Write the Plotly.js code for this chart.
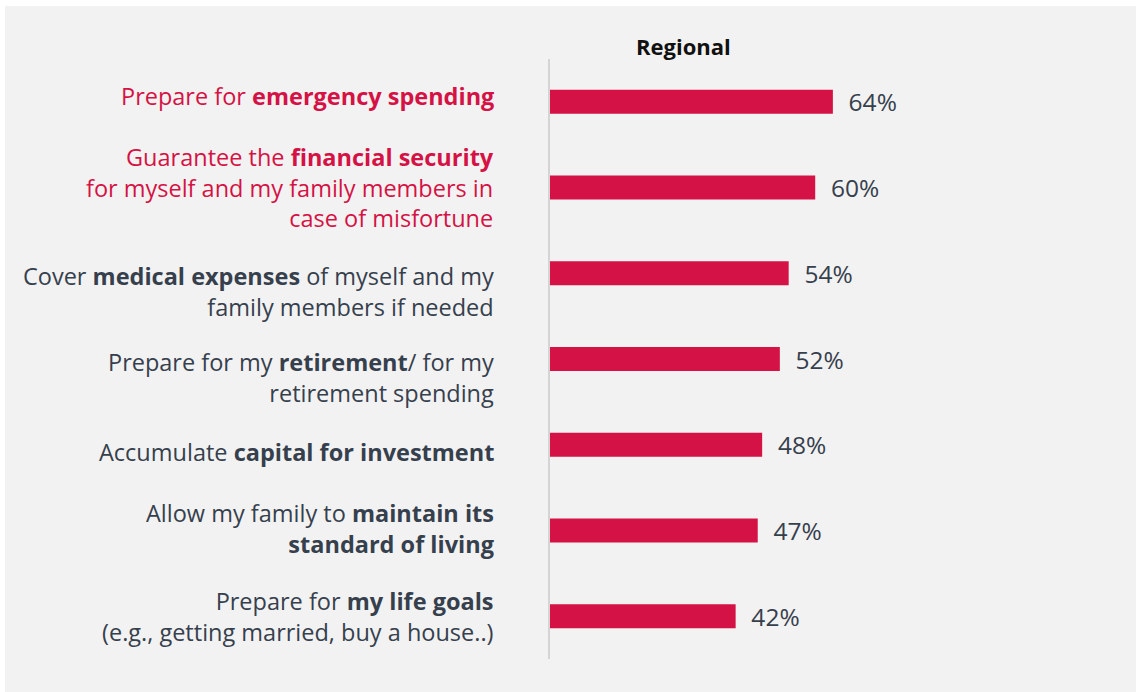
<!DOCTYPE html>
<html>
<head>
<meta charset="utf-8">
<script src="https://cdn.plot.ly/plotly-3.0.1.min.js"></script>
<style>
  html, body { margin: 0; padding: 0; background: #ffffff; }
  #chart { position: absolute; left: 5px; top: 6px; width: 1131px; height: 686px; }
</style>
</head>
<body>
<div id="chart"></div>
<script>
// reasons, top to bottom
var reasons = [
    "Prepare for <b>emergency spending</b>",
    "Guarantee the <b>financial security</b><br>for myself and my family members in<br>case of misfortune",
    "Cover <b>medical expenses</b> of myself and my<br>family members if needed",
    "Prepare for my <b>retirement</b>/ for my<br>retirement spending",
    "Accumulate <b>capital for investment</b>",
    "Allow my family to <b>maintain its<br>standard of living</b>",
    "Prepare for <b>my life goals</b><br>(e.g., getting married, buy a house..)"
];
var regional = [64, 60, 54, 52, 48, 47, 42];
var highlighted = [true, true, false, false, false, false, false];

var red = "#d51245";
var ink = "#36404d";
var labelFont = "Open Sans, sans-serif";

// the source nudges some labels off the bar centre (px, + is down)
var labelNudge = [-6, 0, 18, 18, 7, -2, 0];

var trace = {
    type: "bar",
    orientation: "h",
    x: regional,
    y: reasons,
    width: 0.28,
    marker: {color: red},
    text: regional.map(function(v) { return "\u00a0\u00a0" + v + "%"; }),
    textposition: "outside",
    constraintext: "none",
    textfont: {family: labelFont, size: 24.5, color: ink},
    cliponaxis: false,
    hoverinfo: "skip"
};

var annotations = reasons.map(function(r, i) {
    return {
        text: r,
        xref: "paper", yref: "y",
        x: 0, y: i,
        xanchor: "right", yanchor: "middle",
        xshift: -54, yshift: -labelNudge[i],
        align: "right",
        showarrow: false,
        font: {family: labelFont, size: 23.5, color: highlighted[i] ? red : ink}
    };
});

annotations.push({
    text: "<b>Regional</b>",
    xref: "paper", yref: "paper",
    x: 0.303, y: 1.022,
    xanchor: "center", yanchor: "middle",
    showarrow: false,
    font: {family: labelFont, size: 22, color: "#111111"}
});

var layout = {
    paper_bgcolor: "#f2f2f2",
    plot_bgcolor: "#f2f2f2",
    margin: {l: 545, r: 144, t: 53, b: 33},
    showlegend: false,
    font: {family: labelFont, size: 22, color: ink},
    xaxis: {
        range: [0, 100],
        visible: false,
        fixedrange: true
    },
    yaxis: {
        autorange: "reversed",
        showticklabels: false,
        showline: true,
        linecolor: "#d4d4d4",
        linewidth: 2,
        showgrid: false,
        zeroline: false,
        ticks: ""
    },
    annotations: annotations
};

Plotly.newPlot("chart", [trace], layout, {displayModeBar: false, staticPlot: true});
</script>
</body>
</html>
